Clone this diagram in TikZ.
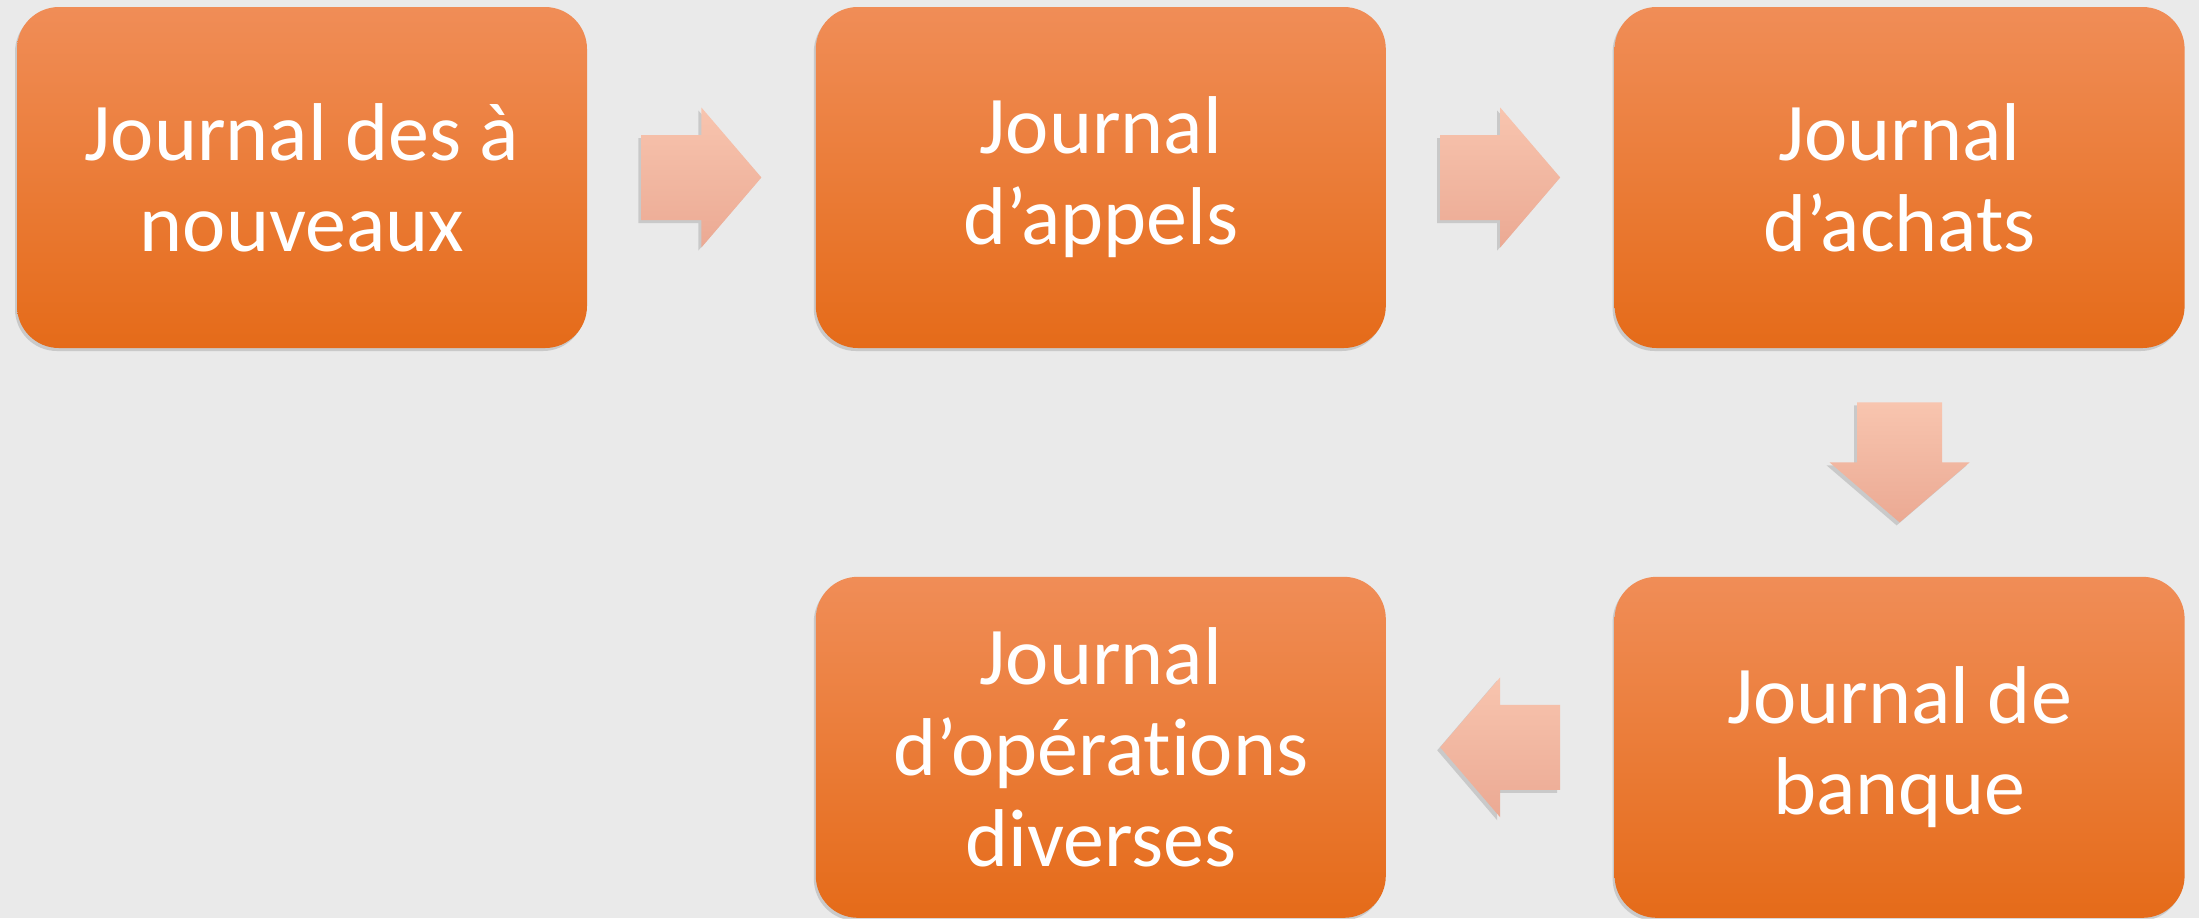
\documentclass[tikz,border=0pt]{standalone}
\usepackage{fontspec}
\setmainfont{Carlito}[Ligatures=NoCommon]
\usetikzlibrary{positioning,calc,shadows}

\definecolor{bggray}{HTML}{EAEAEA}
\definecolor{boxtop}{HTML}{F08D57}
\definecolor{boxmid}{HTML}{F47B2A}
\definecolor{boxbot}{HTML}{E56B19}
\definecolor{arrtop}{HTML}{F8C5AF}
\definecolor{arrbot}{HTML}{EBA993}

\tikzset{
  journal/.style={rectangle, rounded corners=21pt, minimum width=285pt,
    minimum height=170.5pt, inner sep=0pt, align=center, text=white,
    top color=boxtop, middle color=boxmid, bottom color=boxbot,
    drop shadow={shadow xshift=-1pt, shadow yshift=-1.5pt, opacity=.3},
    font=\fontsize{41}{45.5}\selectfont},
  arrowfill/.style={top color=arrtop, bottom color=arrbot,
    drop shadow={shadow xshift=-1.5pt, shadow yshift=-1.5pt, opacity=.3}},
  flowarrow/.pic={
    \path[arrowfill] (-60,-42.5) -- (0,-42.5) -- (0,-70) -- (60,0)
      -- (0,70) -- (0,42.5) -- (-60,42.5) -- cycle;
  }
}

\begin{document}
\begin{tikzpicture}[x=0.5pt,y=-0.5pt]
\fill[bggray] (0,0) rectangle (2199,918);
\useasboundingbox (0,0) rectangle (2199,918);

\node[journal] (j1) at (302,177.5) {Journal des à\\nouveaux};
\node[journal, right=114pt of j1] (j2) {Journal\\d’appels};
\node[journal, right=114pt of j2] (j3) {Journal\\d’achats};
\node[journal, below=114pt of j3] (j4) {Journal de\\banque};
\node[journal, left=114pt of j4] (j5) {Journal\\d’opérations\\diverses};

\pic at ($(j1.east)!.5!(j2.west)$) {flowarrow};
\pic at ($(j2.east)!.5!(j3.west)$) {flowarrow};
\pic[rotate=-90] at ($(j3.south)!.5!(j4.north)$) {flowarrow};
\pic[rotate=180] at ($(j4.west)!.5!(j5.east)$) {flowarrow};
\end{tikzpicture}
\end{document}
